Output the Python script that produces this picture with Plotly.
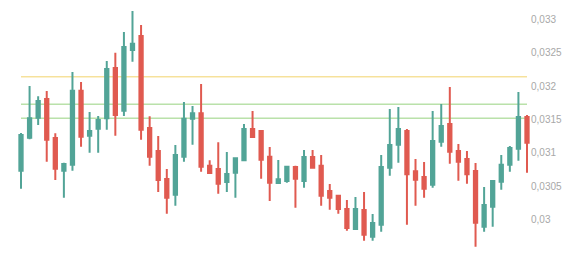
import plotly.graph_objects as go

opens = [0.030732, 0.031227, 0.031527, 0.031808, 0.031223, 0.030732, 0.030822, 0.031932, 0.031257, 0.031362,
         0.031518, 0.032273, 0.031632, 0.032543, 0.032753, 0.031373, 0.031028, 0.030608, 0.030372, 0.030942,
         0.031512, 0.031593, 0.030807, 0.030758, 0.030563, 0.030702, 0.030888, 0.031358, 0.031328, 0.030942,
         0.030548, 0.030578, 0.030788, 0.030578, 0.030938, 0.030807, 0.030428, 0.030357, 0.030158, 0.029858,
         0.030143, 0.029742, 0.029922, 0.030777, 0.031122, 0.031328, 0.030723, 0.030638, 0.030522, 0.031167,
         0.031433, 0.031028, 0.030908, 0.030728, 0.029892, 0.030192, 0.030567, 0.030822, 0.031062, 0.031538]
highs = [0.031298, 0.032003, 0.031848, 0.031928, 0.031293, 0.030852, 0.032213, 0.032063, 0.031613, 0.031553,
         0.032378, 0.032502, 0.032813, 0.033128, 0.032918, 0.031548, 0.031253, 0.030758, 0.031118, 0.031763,
         0.031703, 0.032033, 0.030888, 0.031158, 0.031013, 0.030918, 0.031433, 0.031628, 0.031343, 0.031088,
         0.030893, 0.030807, 0.030807, 0.031043, 0.031043, 0.030968, 0.030533, 0.030372, 0.030293, 0.030338,
         0.030413, 0.030083, 0.030968, 0.031658, 0.031688, 0.031358, 0.030908, 0.030863, 0.031628, 0.031733,
         0.031988, 0.031133, 0.031028, 0.030848, 0.030488, 0.030593, 0.030968, 0.031103, 0.031913, 0.031568]
lows = [0.030462, 0.031203, 0.031418, 0.030867, 0.030593, 0.030327, 0.030732, 0.031092, 0.031002, 0.031002,
        0.031347, 0.031257, 0.031553, 0.032367, 0.031197, 0.030807, 0.030413, 0.030087, 0.030207, 0.030867,
        0.031122, 0.030717, 0.030698, 0.030387, 0.030413, 0.030327, 0.030888, 0.031227, 0.030612, 0.030278,
        0.030537, 0.030552, 0.030177, 0.030477, 0.030762, 0.030207, 0.030147, 0.030087, 0.029832, 0.029847,
        0.029682, 0.029682, 0.029817, 0.030657, 0.030852, 0.029922, 0.030207, 0.030327, 0.030477, 0.031092,
        0.030837, 0.030582, 0.030537, 0.029592, 0.029817, 0.029892, 0.030447, 0.030717, 0.030882, 0.030702]
closes = [0.031268, 0.031518, 0.031778, 0.031197, 0.030762, 0.030833, 0.031932, 0.031242, 0.031328, 0.031493,
          0.032258, 0.031568, 0.032588, 0.032637, 0.031347, 0.030942, 0.030593, 0.030327, 0.030968, 0.031512,
          0.031593, 0.030792, 0.030698, 0.030537, 0.030683, 0.030918, 0.031358, 0.031238, 0.030897, 0.030552,
          0.030603, 0.030792, 0.030612, 0.030938, 0.030777, 0.030357, 0.030327, 0.030158, 0.029873, 0.030158,
          0.029772, 0.029948, 0.030788, 0.031118, 0.031358, 0.030678, 0.030597, 0.030462, 0.031178, 0.031403,
          0.031017, 0.030867, 0.030678, 0.029952, 0.030218, 0.030578, 0.030822, 0.031073, 0.031538, 0.031152]

x_index = list(range(len(opens)))

level_values = [0.03214, 0.03173, 0.03152]
level_colors = ["#f2d36b", "#97d27e", "#97d27e"]

tick_values = [0.030, 0.0305, 0.031, 0.0315, 0.032, 0.0325, 0.033]
tick_labels = ["0,03", "0,0305", "0,031", "0,0315", "0,032", "0,0325", "0,033"]

UP = "#52a497"
DOWN = "#e05a50"

fig = go.Figure(go.Candlestick(
    x=x_index, open=opens, high=highs, low=lows, close=closes,
    increasing=dict(line=dict(color=UP, width=2), fillcolor=UP),
    decreasing=dict(line=dict(color=DOWN, width=2), fillcolor=DOWN),
    whiskerwidth=0,
    hoverinfo="skip",
))

for val, col in zip(level_values, level_colors):
    fig.add_shape(type="line", xref="x", yref="y",
                  x0=x_index[0], x1=x_index[-1], y0=val, y1=val,
                  line=dict(color=col, width=1), layer="below")

fig.update_layout(
    width=584, height=258,
    margin=dict(l=0, r=54, t=0, b=0),
    paper_bgcolor="white", plot_bgcolor="white",
    showlegend=False,
    boxgap=0.45,
    font=dict(family="Liberation Sans, Arial, sans-serif", size=10, color="#a8a8a8"),
    xaxis=dict(range=[-2.449, 59.35], visible=False, rangeslider=dict(visible=False),
               showgrid=False, zeroline=False),
    yaxis=dict(range=[0.0294225, 0.0332925], side="right", showgrid=False, zeroline=False,
               showline=False, ticks="", tickvals=tick_values, ticktext=tick_labels,
               tickfont=dict(size=10, color="#a8a8a8")),
)

fig.write_html("out.html")
